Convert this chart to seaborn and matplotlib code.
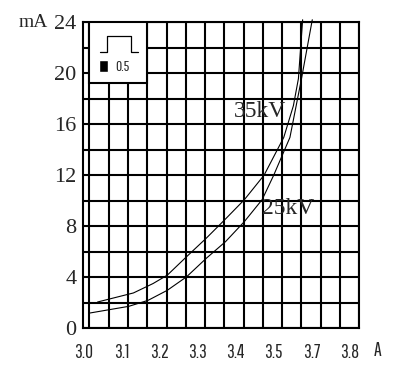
import numpy as np
import pandas as pd
import seaborn as sns
import matplotlib.pyplot as plt
from matplotlib.patches import Rectangle

# readings from the chart (A, mA)
v35 = [3.021, 3.114, 3.165, 3.202, 3.252, 3.303, 3.351, 3.402, 3.453, 3.504, 3.529, 3.542, 3.553]
i35 = [2.04, 2.75, 3.49, 4.15, 5.6, 7.05, 8.5, 10.08, 12.0, 14.96, 17.45, 19.57, 24.2]
v25 = [3.0, 3.102, 3.152, 3.202, 3.252, 3.303, 3.353, 3.402, 3.448, 3.478, 3.520, 3.550, 3.578]
i25 = [1.17, 1.70, 2.17, 2.96, 4.02, 5.47, 6.78, 8.36, 10.08, 12.0, 14.96, 19.57, 24.2]
series = ["35kV", "25kV"]
x_labels = ["3.0", "3.1", "3.2", "3.3", "3.4", "3.5", "3.7", "3.8"]
y_ticks = [0, 4, 8, 12, 16, 20, 24]

df = pd.DataFrame({
    "voltage": v35 + v25,
    "current": i35 + i25,
    "series": [series[0]] * len(v35) + [series[1]] * len(v25),
})

sns.set_style("white")
plt.rcParams["font.family"] = ["Liberation Serif", "DejaVu Serif"]
narrow = ["Pathway Gothic One", "Liberation Sans", "DejaVu Sans"]

fig = plt.figure(figsize=(4.02, 3.82), dpi=100)
ax = fig.add_axes([0.2072, 0.1414, 0.6866, 0.8002])

sns.lineplot(data=df, x="voltage", y="current", hue="series", sort=False,
             palette=["black", "black"], linewidth=0.8, legend=False, ax=ax,
             clip_on=False, zorder=3)

ax.set_xlim(3.0, 3.7)
ax.set_ylim(0, 24)

# grid every 0.05 A / 2 mA (minor ticks, kept even where they meet major ones)
ax.xaxis.remove_overlapping_locs = False
ax.yaxis.remove_overlapping_locs = False
ax.set_xticks(np.arange(3.0, 3.7001, 0.05), minor=True)
ax.set_yticks(np.arange(0, 24.01, 2), minor=True)
ax.grid(which="minor", color="black", linewidth=1.5)
ax.grid(which="major", visible=False)
ax.set_axisbelow(True)

ax.set_xticks(np.linspace(2.984, 3.675, len(x_labels)))
ax.set_xticklabels(x_labels, family=narrow, fontsize=14)
ax.set_yticks(y_ticks)
ax.set_yticklabels([str(t) for t in y_ticks], fontsize=16)
ax.tick_params(which="both", length=0)
ax.tick_params(axis="x", pad=11)
ax.tick_params(axis="y", pad=5)
ax.set_xlabel("")
ax.set_ylabel("")
for s in ax.spines.values():
    s.set_color("black")
    s.set_linewidth(1.5)

ax.text(3.747, -1.75, "A", family=narrow, fontsize=14, ha="center", va="center")
ax.text(2.855, 24.0, "mA", fontsize=14, ha="center", va="center")

ax.text(3.443, 17.0, series[0], fontsize=17, ha="center", va="center")
ax.text(3.516, 9.37, series[1], fontsize=17, ha="center", va="center")

# pulse legend box
ax.add_patch(Rectangle((3.0, 19.2), 0.15, 4.8, facecolor="white", edgecolor="black",
                       linewidth=1.5, zorder=4))
ax.plot([3.027, 3.045, 3.045, 3.108, 3.108, 3.125], [21.64, 21.64, 22.9, 22.9, 21.64, 21.64],
        color="black", linewidth=0.9, zorder=5)
ax.add_patch(Rectangle((3.025, 20.06), 0.024, 1.0, facecolor="black", zorder=5))
ax.text(3.086, 20.5, "0.5", family=narrow, fontsize=11, ha="center", va="center", zorder=5)

fig.savefig("out.png", dpi=100)
